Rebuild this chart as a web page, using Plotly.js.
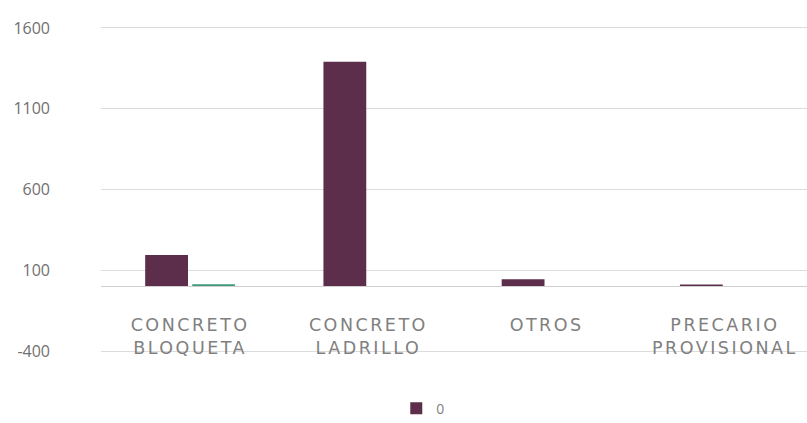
<!DOCTYPE html>
<html>
<head>
<meta charset="utf-8">
<script src="https://cdn.plot.ly/plotly-3.0.1.min.js"></script>
<style>
html,body{margin:0;padding:0;overflow:hidden;background:#fff;width:807px;height:423px;}
#chart{width:830px;height:423px;}
#chart .xtick text{letter-spacing:2.5px;}
</style>
</head>
<body>
<div id="chart"></div>
<script>
const categories = ['CONCRETO<br>BLOQUETA', 'CONCRETO<br>LADRILLO', 'OTROS', 'PRECARIO<br>PROVISIONAL'];
const series0Name = '0';
const series0Values = [194, 1390, 45, 12];
const series1Name = '1';
const series1Values = [14, null, null, null];
const yTicks = [-400, 100, 600, 1100, 1600];

const traces = [
  {type:'bar', name: series0Name, x: categories, y: series0Values,
   marker:{color:'#5c2e4b'}, showlegend:true},
  {type:'bar', name: series1Name, x: categories, y: series1Values,
   marker:{color:'#3d9a7c'}, showlegend:false}
];

const layout = {
  width: 830, height: 423,
  margin: {l:101, r:16, t:26, b:70, autoexpand:false},
  paper_bgcolor:'#ffffff', plot_bgcolor:'#ffffff',
  barmode:'group', bargap:0.472, bargroupgap:0.09,
  font:{family:'"Open Sans", sans-serif', color:'#7f7f7f'},
  showlegend:true,
  legend:{orientation:'h', x:0.452, xanchor:'center', y:-0.17, yanchor:'middle',
          font:{size:14, color:'#7f7f7f'}},
  xaxis:{anchor:'free', position:(412/2024), showline:true, linecolor:'#d0d0d0', linewidth:1,
         ticks:'', showgrid:false, tickangle:0, ticklabelstandoff:23,
         tickfont:{family:'"DejaVu Sans", sans-serif', size:17.5, color:'#808080'}},
  yaxis:{range:[-412,1612], tickvals:yTicks, ticktext:yTicks.map(String),
         showgrid:true, gridcolor:'#dcdcdc', gridwidth:1, zeroline:false,
         ticks:'', showline:false, ticklabelstandoff:50,
         tickfont:{size:16, color:'#707070'}}
};

Plotly.newPlot('chart', traces, layout, {displayModeBar:false, staticPlot:true});
</script>
</body>
</html>
